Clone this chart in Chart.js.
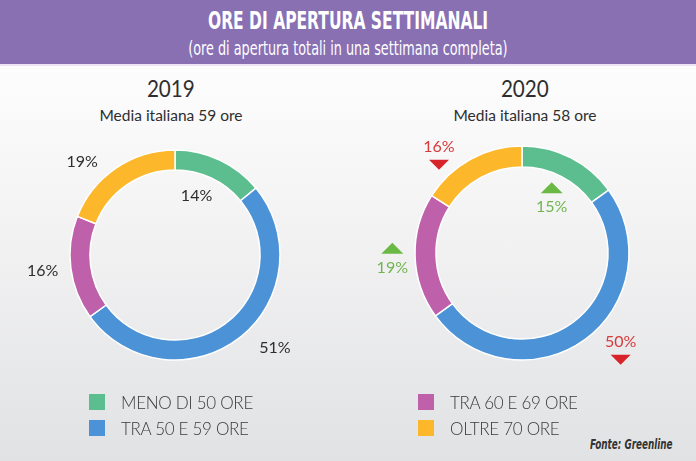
<!DOCTYPE html>
<html>
<head>
<meta charset="utf-8">
<script src="https://cdn.jsdelivr.net/npm/chart.js@4.4.1/dist/chart.umd.min.js"></script>
<style>
  html, body { margin: 0; padding: 0; }
  body {
    width: 696px; height: 461px; position: relative; overflow: hidden;
    background: linear-gradient(#fdfdfd 70px, #f1f1f2 250px, #e1e2e4 461px);
    font-family: Lato, "Noto Sans", sans-serif; color: #333;
  }
  #header {
    position: absolute; left: 0; top: 0; width: 696px; height: 64px;
    background: #8870b3; border-bottom: 2px solid #efe3f6;
  }
  .hline { position: absolute; left: 0; width: 696px; text-align: center; color: #fff;
    font-family: "Liberation Sans Narrow", "DejaVu Sans Condensed", sans-serif; white-space: nowrap; }
  .hline span { display: inline-block; transform-origin: center; }
  #t1 { top: 6px; font-size: 25px; font-weight: bold; }
  #t1 span { transform: scaleX(0.69); }
  #t2 { top: 37px; font-size: 19px; }
  #t2 span { transform: scaleX(0.75); }
  .year { position: absolute; width: 300px; text-align: center; font-size: 24px; top: 73px; color: #2e2e2e; }
  .year span { display: inline-block; transform: scaleX(0.86); }
  .media { position: absolute; width: 300px; text-align: center; font-size: 15.5px; top: 106px; color: #2e2e2e; }
  canvas { position: absolute; }
  .leg { position: absolute; font-size: 17px; color: #3a3a3a; letter-spacing: -0.3px; }
  .leg i { position: absolute; left: 0; top: 2px; width: 16px; height: 16px; }
  .leg b { position: absolute; left: 32px; top: 0; font-weight: 300; white-space: nowrap; }
  #fonte { position: absolute; left: 590px; top: 436px; font-size: 14px; font-style: italic; font-weight: bold;
    font-family: "Liberation Sans Narrow", "DejaVu Sans Condensed", sans-serif; color: #333;
    white-space: nowrap; transform: scaleX(0.7); transform-origin: left; }
</style>
</head>
<body>
<div id="header"></div>
<div class="hline" id="t1"><span>ORE DI APERTURA SETTIMANALI</span></div>
<div class="hline" id="t2"><span>(ore di apertura totali in una settimana completa)</span></div>

<div class="year" style="left:21px"><span>2019</span></div>
<div class="media" style="left:21px">Media italiana 59 ore</div>
<div class="year" style="left:375px"><span>2020</span></div>
<div class="media" style="left:375px">Media italiana 58 ore</div>

<canvas id="c2019" width="320" height="320" style="left:15px;top:95px"></canvas>
<canvas id="c2020" width="320" height="320" style="left:362px;top:93px"></canvas>

<div id="legend"></div>
<div id="fonte">Fonte: Greenline</div>

<script>
const categories = ['MENO DI 50 ORE', 'TRA 50 E 59 ORE', 'TRA 60 E 69 ORE', 'OLTRE 70 ORE'];
const values2019 = [14, 51, 16, 19];
const values2020 = [15, 50, 19, 16];
const colors = ['#5cbe8e', '#4c92d7', '#be60aa', '#fcb72b'];

// label placement: angle (deg, clockwise from top) and distance as fraction of outer radius
const place2019 = [[20, 0.60], [133, 1.30], [263, 1.27], [315, 1.25]];
const place2020 = [[33, 0.51], [132, 1.24], [263.5, 1.22], [322, 1.26]];

const trend = values2020.map((v, i) => v > values2019[i] ? 'up' : 'down');

const pctLabels = {
  id: 'pctLabels',
  afterDatasetsDraw(chart, args, opts) {
    const ctx = chart.ctx;
    const meta = chart.getDatasetMeta(0);
    const vals = chart.data.datasets[0].data;
    meta.data.forEach((arc, i) => {
      const [deg, f] = opts.place[i];
      const a = deg * Math.PI / 180;
      const x = arc.x + Math.sin(a) * arc.outerRadius * f;
      const y = arc.y - Math.cos(a) * arc.outerRadius * f;
      let color = '#2e2e2e';
      if (opts.trend) {
        const up = opts.trend[i] === 'up';
        color = up ? '#72b550' : '#d8393c';
        ctx.fillStyle = up ? '#6bb945' : '#d8232a';
        ctx.beginPath();
        if (up) {
          const ty = y - 19;
          ctx.moveTo(x - 11, ty + 5); ctx.lineTo(x + 11, ty + 5); ctx.lineTo(x, ty - 6);
        } else {
          const ty = y + 18;
          ctx.moveTo(x - 10, ty - 5); ctx.lineTo(x + 10, ty - 5); ctx.lineTo(x, ty + 5);
        }
        ctx.closePath(); ctx.fill();
      }
      ctx.save();
      ctx.font = '16px Lato, "Noto Sans", sans-serif';
      ctx.fillStyle = color;
      ctx.textAlign = 'center';
      ctx.textBaseline = 'middle';
      ctx.fillText(vals[i] + '%', x, y);
      ctx.restore();
    });
  }
};

function makeDonut(id, values, radius, cutout, place, tr) {
  new Chart(document.getElementById(id), {
    type: 'doughnut',
    data: {
      labels: categories,
      datasets: [{
        data: values,
        backgroundColor: colors,
        borderColor: '#ffffff',
        borderWidth: 1.5
      }]
    },
    options: {
      responsive: false,
      animation: false,
      radius: radius,
      cutout: cutout,
      plugins: {
        legend: { display: false },
        tooltip: { enabled: false },
        pctLabels: { place: place, trend: tr }
      }
    },
    plugins: [pctLabels]
  });
}

makeDonut('c2019', values2019, 105, '81%', place2019, null);
makeDonut('c2020', values2020, 107, '80.4%', place2020, trend);

// legend
const legPos = [[89, 393], [89, 419], [418, 393], [418, 419]];
const legend = document.getElementById('legend');
categories.forEach((c, i) => {
  const d = document.createElement('div');
  d.className = 'leg';
  d.style.left = legPos[i][0] + 'px';
  d.style.top = (legPos[i][1] - 1) + 'px';
  d.innerHTML = '<i style="background:' + colors[i] + '"></i><b>' + c + '</b>';
  legend.appendChild(d);
});
</script>
</body>
</html>
